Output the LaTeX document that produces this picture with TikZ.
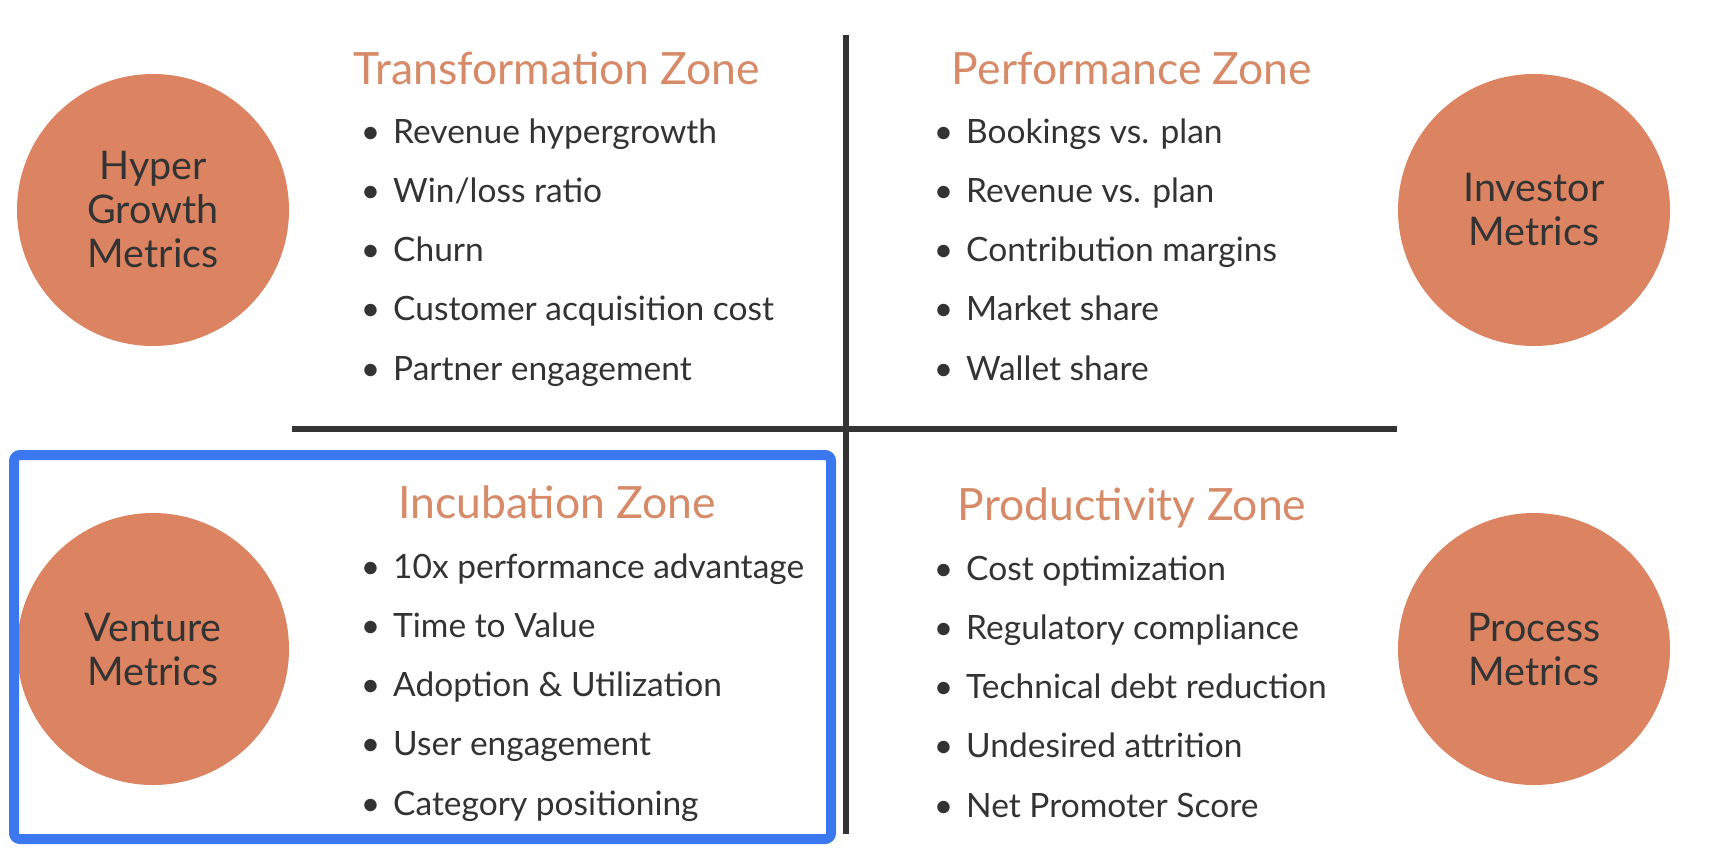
\documentclass[tikz,border=0pt]{standalone}
\usepackage{fontspec}
\setmainfont{Lato}
\usepackage{tikz}
\usetikzlibrary{positioning}
\definecolor{metricorange}{HTML}{DC8461}
\definecolor{titleorange}{HTML}{D68A68}
\definecolor{inkgray}{HTML}{333333}
\definecolor{frameblue}{HTML}{3B78F0}

\begin{document}
\begin{tikzpicture}[
    x=1pt, y=-1pt,
    metric/.style={circle, fill=metricorange, minimum size=272pt, inner sep=0pt, align=center, text=inkgray, font=\fontsize{39.5}{44}\selectfont},
    zone/.style={anchor=base, text=titleorange, font=\fontsize{44.5}{52}\selectfont},
    item/.style={anchor=base west, inner sep=0pt, text=inkgray, font=\fontsize{33.5}{40}\selectfont},
    axis/.style={draw=inkgray, line width=6pt}
]
\useasboundingbox (0,0) rectangle (1710,852);

% metric circles
\node[metric] (hyper) at (153,210) {Hyper\\Growth\\Metrics};
\node[metric] (investor) at (1534,210) {Investor\\Metrics};
\node[metric] (venture) at (153,649) {Venture\\Metrics};
\node[metric] (process) at (1534,649) {Process\\Metrics};

% quadrant axes
\coordinate (vtop) at (846,35);
\coordinate (vbot) at (846,834);
\coordinate (hleft) at (292,429);
\coordinate (hright) at (1397,429);
\draw[axis] (vtop) -- (vbot);
\draw[axis] (hleft) -- (hright);

% zone titles
\node[zone] (transformation) at (557,84) {Transformation Zone};
\node[zone] (performance) at (1132,84) {Performance Zone};
\node[zone] (incubation) at (557,518) {Incubation Zone};
\node[zone] (productivity) at (1132,520) {Productivity Zone};

% bullet lists
\foreach \txt [count=\i] in {Revenue hypergrowth, Win/loss ratio, Churn, Customer acquisition cost, Partner engagement}
    \node[item] (tl\i) at (393,84+59.2*\i) {\makebox[0pt][r]{\textbullet\hspace{13pt}}\txt};
\foreach \txt [count=\i] in {Bookings vs. plan, Revenue vs. plan, Contribution margins, Market share, Wallet share}
    \node[item] (tr\i) at (966,84+59.2*\i) {\makebox[0pt][r]{\textbullet\hspace{13pt}}\txt};
\foreach \txt [count=\i] in {10x performance advantage, Time to Value, Adoption \& Utilization, User engagement, Category positioning}
    \node[item] (bl\i) at (393,519+59.2*\i) {\makebox[0pt][r]{\textbullet\hspace{13pt}}\txt};
\foreach \txt [count=\i] in {Cost optimization, Regulatory compliance, Technical debt reduction, Undesired attrition, Net Promoter Score}
    \node[item] (br\i) at (966,521+59.2*\i) {\makebox[0pt][r]{\textbullet\hspace{13pt}}\txt};

% highlight frame
\draw[frameblue, line width=10pt, rounded corners=6pt] (14,455) rectangle (831,839);
\end{tikzpicture}
\end{document}
